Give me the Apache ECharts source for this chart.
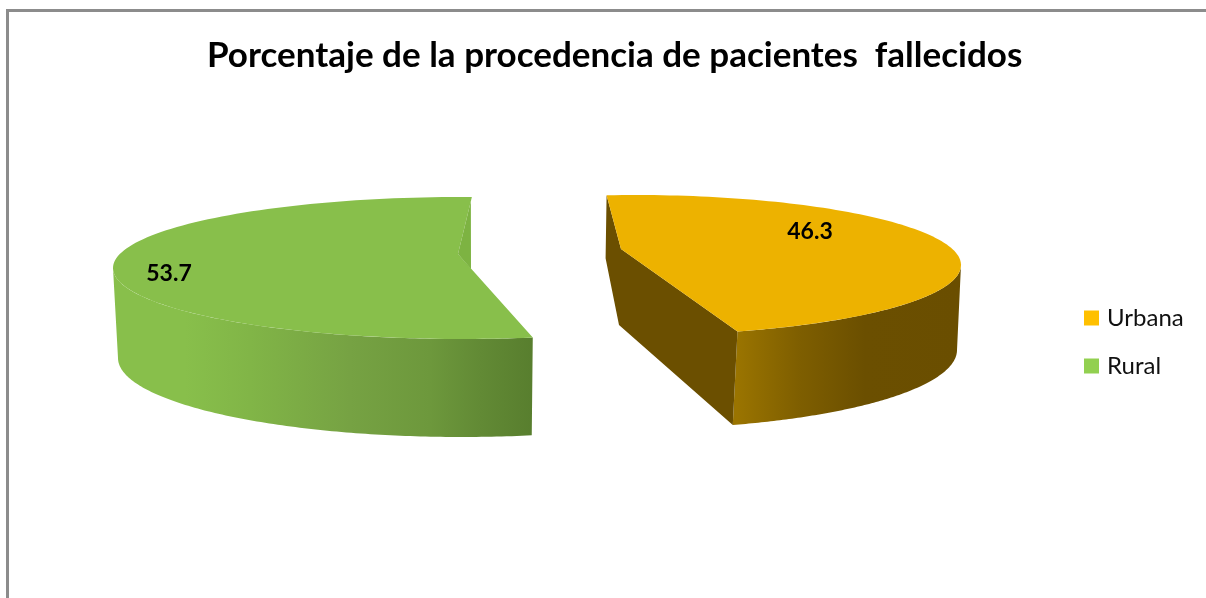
<!DOCTYPE html>
<html>
<head>
<meta charset="utf-8">
<style>html,body{margin:0;padding:0;background:#fff}#c{width:1206px;height:598px}</style>
<script src="https://cdn.jsdelivr.net/npm/echarts@6/dist/echarts.min.js"></script>
</head>
<body>
<div id="c"></div>
<script>
var titleText = 'Porcentaje de la procedencia de pacientes  fallecidos';
var categories = ['Urbana', 'Rural'];
var values = [46.3, 53.7];
var legendColors = ['#FFC000', '#92D050'];
var topColors = ['#EDB200', '#88BF4B'];

var FONT = 'Lato, "Open Sans", sans-serif';
var rad = Math.PI / 180;
var total = values[0] + values[1];

// Perspective layout of every exploded slice (top ellipse, bottom ellipse, cut faces)
var layouts = [
  {
    start: -95, top: {cx: 635, cy: 265, rx: 326, ry: 70}, bottom: {cx: 630, cy: 350, rx: 327, ry: 79},
    wallFrom: 0, apex: [-14, -16], label: [810, 232],
    wallStops: [[737, '#9A7400'], [800, '#7E5E00'], [865, '#6B4F00'], [961, '#6A4E00']],
    cutColor: '#6B4F00',
    cut: function (a, s, e, eb) {
      return [a, e, eb, [a[0] - 2, a[1] + 76], [s[0] - 1, s[1] + 63], s];
    }
  },
  {
    start: 78.3, top: {cx: 462, cy: 268, rx: 349, ry: 71}, bottom: {cx: 462, cy: 358, rx: 344, ry: 79},
    wallFrom: 180, apex: [-4, -14], label: [169, 274],
    wallStops: [[113, '#88BF4B'], [185, '#88BF4B'], [250, '#81B547'], [350, '#76A243'], [430, '#6D983C'], [480, '#628A35'], [533, '#587E2E']],
    cutColor: '#7DB342',
    cut: function (a, s, e) {
      return [s, a, [a[0] + 13, a[1] + 15], [s[0] - 1, s[1] + 4]];
    }
  }
];

function pt(el, deg) {
  return [el.cx + el.rx * Math.cos(deg * rad), el.cy + el.ry * Math.sin(deg * rad)];
}
function arc(el, a, b) {
  var out = [], n = 120;
  for (var i = 0; i <= n; i++) out.push(pt(el, a + (b - a) * i / n));
  return out;
}

function makeRender(idx) {
  var L = layouts[idx];
  return function (params, api) {
    var v = api.value(0);
    var sweep = v / total * 360;
    var a0 = L.start, a1 = L.start + sweep;
    var apex, s, e, eb, wA, wB;
    if (idx === 0) {            // outer arc runs clockwise from the back edge to the front edge
      s = pt(L.top, a0); e = pt(L.top, a1); eb = pt(L.bottom, a1);
      wA = L.wallFrom; wB = a1;
    } else {                    // outer arc runs from the front edge round the left to the back edge
      e = pt(L.top, a0); s = pt(L.top, a1); eb = pt(L.bottom, a0);
      wA = a0; wB = L.wallFrom;
    }
    apex = [L.top.cx + L.apex[0], L.top.cy + L.apex[1]];
    var wall = arc(L.top, wA, wB).concat(arc(L.bottom, wB, wA));
    var minX = L.wallStops[0][0], maxX = L.wallStops[L.wallStops.length - 1][0];
    var grad = new echarts.graphic.LinearGradient(minX, 0, maxX, 0, L.wallStops.map(function (st) {
      return {offset: (st[0] - minX) / (maxX - minX), color: st[1]};
    }), true);
    var face = arc(L.top, a0, a1).concat([apex]);
    var children = [
      {type: 'polygon', shape: {points: wall}, style: {fill: grad}},
      {type: 'polygon', shape: {points: L.cut(apex, s, e, eb)}, style: {fill: L.cutColor}}
    ];
    var faceEl = {type: 'polygon', shape: {points: face}, style: {fill: topColors[idx]}};
    if (idx === 0) children.push(faceEl);
    else children.splice(1, 0, faceEl);
    children.push({
      type: 'text',
      style: {
        x: L.label[0], y: L.label[1], text: String(v), fill: '#000',
        font: 'bold 23px ' + FONT, align: 'center', verticalAlign: 'middle'
      }
    });
    return {type: 'group', children: children};
  };
}

var chart = echarts.init(document.getElementById('c'), null, {renderer: 'canvas'});
chart.setOption({
  animation: false,
  backgroundColor: '#ffffff',
  title: {
    text: titleText, left: 207, top: 38, padding: 0,
    textStyle: {fontFamily: FONT, fontWeight: 'bold', fontSize: 35, color: '#000'}
  },
  legend: {
    orient: 'vertical', left: 1084, top: 306, padding: 0, itemGap: 24,
    itemWidth: 15, itemHeight: 15, icon: 'rect', selectedMode: false,
    textStyle: {fontFamily: FONT, fontSize: 24, color: '#111', padding: [0, 0, 0, 3]},
    data: categories.map(function (c, i) {
      return {name: c, itemStyle: {color: legendColors[i]}};
    })
  },
  graphic: [
    {type: 'polyline', silent: true, z: -1, shape: {points: [[7.5, 598], [7.5, 10.5], [1206, 10.5]]},
     style: {stroke: '#8c8c8c', lineWidth: 3, fill: null}}
  ],
  series: categories.map(function (c, i) {
    return {
      type: 'custom', name: c, coordinateSystem: 'none',
      itemStyle: {color: legendColors[i]},
      data: [[values[i]]],
      renderItem: makeRender(i)
    };
  })
});
</script>
</body>
</html>
